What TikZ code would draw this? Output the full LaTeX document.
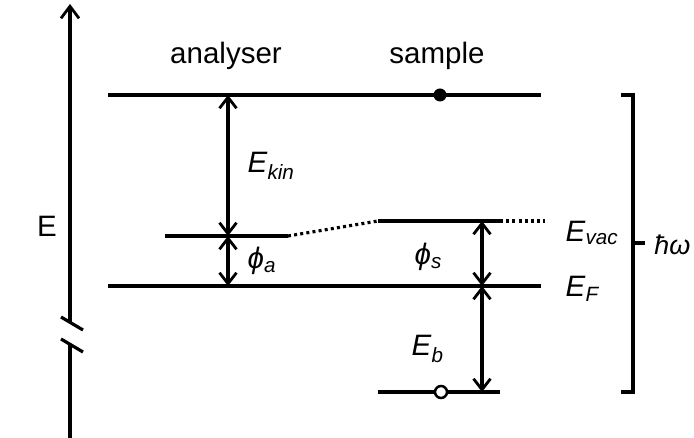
\documentclass[tikz,border=0pt]{standalone}
\usepackage{fontspec}
\setmainfont{Liberation Sans}
\usetikzlibrary{arrows.meta,positioning}
\newcommand{\enlab}[2]{\textit{#1}\textsubscript{\itshape #2}}

\begin{document}
\begin{tikzpicture}[x=1pt, y=-1pt, font=\fontsize{29.5}{32}\selectfont,
      line width=3.2pt, >={Straight Barb[length=11pt,width=17pt,line width=2.8pt]},
      lvl/.style={line width=3.2pt, line cap=butt},
      dots/.style={line width=3.2pt, dash pattern=on 3pt off 3.2pt},
      lab/.style={inner sep=0pt, anchor=west}]
    \useasboundingbox (0,0) rectangle (694,438);
    % energy axis with break
    \coordinate (ax0) at (70,438);
    \coordinate (axb1) at (70,344);
    \coordinate (axb2) at (70,323);
    \coordinate (ax1) at (70,4);
    \draw (ax0) -- (axb1);
    \draw[-{Straight Barb[length=12pt,width=18pt,line width=2.8pt]}] (axb2) -- (ax1);
    \coordinate (br1a) at (61,317); \coordinate (br1b) at (83,330);
    \coordinate (br2a) at (61,339); \coordinate (br2b) at (83,352);
    \draw (br1a) -- (br1b); \draw (br2a) -- (br2b);
    \node (elab) at (47,226) {E};
    % levels
    \coordinate (top0) at (108,95);  \coordinate (top1) at (541,95);
    \coordinate (ava0) at (165,236); \coordinate (ava1) at (288,236);
    \coordinate (sva0) at (378,221); \coordinate (sva1) at (500,221);
    \coordinate (sva2) at (545,221);
    \coordinate (ef0) at (108,286);  \coordinate (ef1) at (541,286);
    \coordinate (cl0) at (378,392);  \coordinate (cl1) at (500,392);
    \draw[lvl] (top0) -- (top1);
    \draw[lvl] (ava0) -- (ava1);
    \draw[dots] (ava1) -- (sva0);
    \draw[lvl] (sva0) -- (sva1);
    \draw[dots] (sva1) -- (sva2);
    \draw[lvl] (ef0) -- (ef1);
    \draw[lvl] (cl0) -- (cl1);
    \node[circle, fill, inner sep=0pt, minimum size=13pt] (elec) at (440,95) {};
    \node[circle, draw, fill=white, line width=2.5pt, inner sep=0pt, minimum size=12pt] (hole) at (441,392) {};
    \node (ana) at (226,56) {analyser};
    \node (sam) at (437,56) {sample};
    % arrows
    \coordinate (ka) at (228,95);  \coordinate (kb) at (228,236);
    \coordinate (fa) at (228,286);
    \coordinate (sa) at (482,221); \coordinate (sb) at (482,286);
    \coordinate (bb) at (482,392);
    \draw[<->] (ka) -- (kb);
    \draw[<->] (kb) -- (fa);
    \draw[<->] (sa) -- (sb);
    \draw[<->] (sb) -- (bb);
    \node[lab] (ekin) at (246,166) {\enlab{E}{kin}};
    \node[lab] (phia) at (246,261) {\enlab{ϕ}{a}};
    \node[lab] (phis) at (413,257) {\enlab{ϕ}{s}};
    \node[lab] (eb) at (410,349) {\enlab{E}{b}};
    \node[lab] (evac) at (564,233) {\enlab{E}{vac}};
    \node[lab] (ef) at (564,289) {\enlab{E}{F}};
    % photon energy bracket
    \coordinate (hw0) at (621,95); \coordinate (hw1) at (633,95);
    \coordinate (hw2) at (633,392); \coordinate (hw3) at (621,392);
    \coordinate (hwm) at (633,243); \coordinate (hwt) at (645,243);
    \draw[line cap=butt] (hw0) -- (hw1) -- (hw2) -- (hw3);
    \draw (hwm) -- (hwt);
    \node[lab, anchor=east, font=\fontsize{27}{30}\selectfont] (hw) at (692,245) {\itshape ħω};
  \end{tikzpicture}
\end{document}
